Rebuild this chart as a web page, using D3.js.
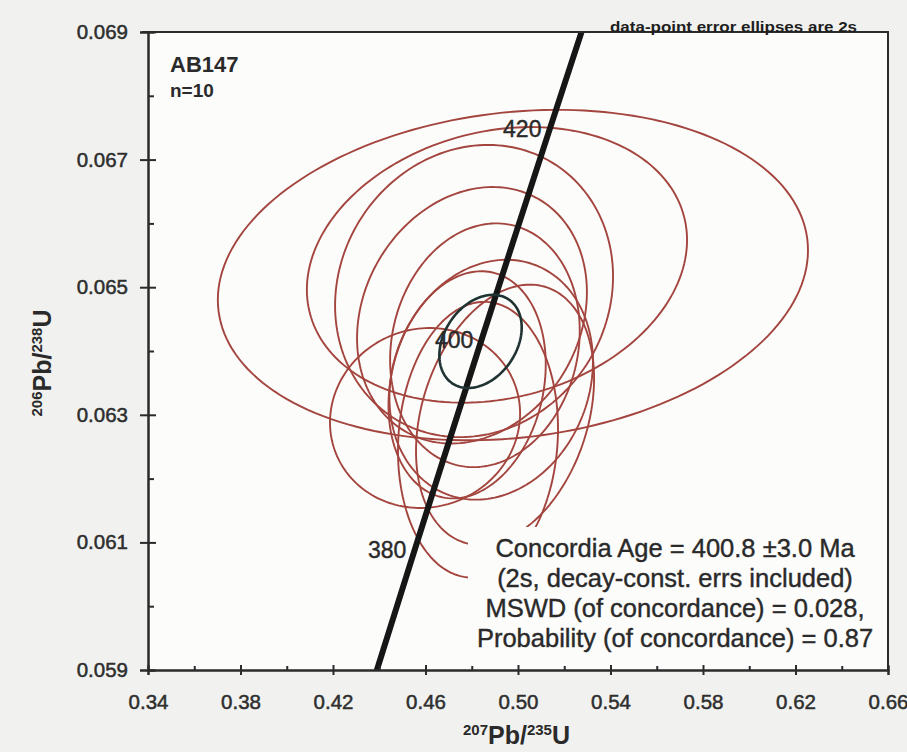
<!DOCTYPE html>
<html><head><meta charset="utf-8">
<script src="https://cdn.jsdelivr.net/npm/d3@7"></script>
<style>
html,body{margin:0;padding:0;background:#f1f2ef;}
svg{display:block;}
text{font-family:"Liberation Sans", Arial, sans-serif;}
</style></head><body>
<svg id="c" width="907" height="752"></svg>
<script>
// ---- data ----
const xTicks = [0.34,0.38,0.42,0.46,0.50,0.54,0.58,0.62,0.66];
const xMinor = [0.36,0.40,0.44,0.48,0.52,0.56,0.60,0.64];
const yTicks = [0.059,0.061,0.063,0.065,0.067,0.069];
const yMinor = [0.060,0.062,0.064,0.066,0.068];
// data-point error ellipses (2s): centre 207Pb/235U, centre 206Pb/238U, 2s x, 2s y, rho
const ellX   = [0.4978, 0.4909, 0.4810, 0.4801, 0.4857, 0.4598, 0.4827, 0.4944, 0.4884, 0.4780];
const ellY   = [0.06519,0.06535,0.06494,0.06456,0.06409,0.06295,0.06261,0.06300,0.06355,0.06347];
const ellSX  = [0.1276, 0.0822, 0.0601, 0.0497, 0.0410, 0.0411, 0.0346, 0.0385, 0.0440, 0.0340];
const ellSY  = [0.00259,0.00216,0.00229,0.00201,0.00191,0.00141,0.00216,0.00204,0.00188,0.00178];
const ellRho = [0.15, 0.18, 0.10, 0.18, 0.12, 0.05, 0.08, 0.28, 0.15, 0.18];
// concordia age ellipse
const concEll = {x:0.4838, y:0.06415, sx:0.0178, sy:0.00073, rho:0.3};
// concordia curve ages (Ma) and labelled ages
const curveAges = [365,370,380,390,400,410,420,430,435];
const markAges = [380,400,420];
const lambda238 = 1.55125e-10, lambda235 = 9.8485e-10;
const infoLines = ["Concordia Age = 400.8 \u00b13.0 Ma","(2s, decay-const. errs included)","MSWD (of concordance) = 0.028,","Probability (of concordance) = 0.87"];

// ---- chart ----
const svg = d3.select("#c");
const x = d3.scaleLinear().domain([0.34,0.66]).range([148,888]);
const y = d3.scaleLinear().domain([0.059,0.069]).range([670,32]);
const ink = "#2a2a2a";

svg.append("rect").attr("x",x(0.34)).attr("y",y(0.069)).attr("width",x(0.66)-x(0.34)).attr("height",y(0.059)-y(0.069)).attr("fill","#fcfcfb");

svg.append("clipPath").attr("id","pc").append("rect")
  .attr("x",x(0.34)).attr("y",y(0.069)).attr("width",x(0.66)-x(0.34)).attr("height",y(0.059)-y(0.069));
const plot = svg.append("g").attr("clip-path","url(#pc)");

function ellPts(cx,cy,sx,sy,r){
  const pts=[]; const n=180;
  for(let i=0;i<n;i++){const t=2*Math.PI*i/n;
    pts.push([cx+sx*Math.cos(t), cy+sy*(r*Math.cos(t)+Math.sqrt(1-r*r)*Math.sin(t))]);}
  return pts;
}
const line = d3.line().x(d=>x(d[0])).y(d=>y(d[1]));
const closed = d3.line().x(d=>x(d[0])).y(d=>y(d[1])).curve(d3.curveLinearClosed);

ellX.forEach((cx,i)=>{
  plot.append("path").attr("d",closed(ellPts(cx,ellY[i],ellSX[i],ellSY[i],ellRho[i])))
    .attr("fill","none").attr("stroke","#a3453e").attr("stroke-width",1.9);
});

// white info box covering ellipses
plot.append("rect").attr("x",468).attr("y",527).attr("width",420).attr("height",141).attr("fill","#fcfcfb");

// concordia curve
const conc = a => [Math.exp(lambda235*a*1e6)-1, Math.exp(lambda238*a*1e6)-1];
plot.append("path").attr("d",line(curveAges.map(conc)))
  .attr("fill","none").attr("stroke","#161616").attr("stroke-width",6);

// concordia ellipse
plot.append("path").attr("d",closed(ellPts(concEll.x,concEll.y,concEll.sx,concEll.sy,concEll.rho)))
  .attr("fill","none").attr("stroke","#1e3332").attr("stroke-width",2.6);

markAges.forEach(a=>{
  const p=conc(a);
  plot.append("text").attr("x",x(p[0])-5).attr("y",y(p[1])-2).attr("text-anchor","end")
    .attr("font-size",23).attr("fill",ink).attr("stroke",ink).attr("stroke-width",0.4).text(a);
});

// axes
const ax = svg.append("g").attr("transform",`translate(0,${y(0.059)})`)
  .call(d3.axisBottom(x).tickValues(xTicks).tickFormat(d3.format(".2f")).tickSize(5).tickPadding(19));
ax.selectAll(".tick line").attr("y1",-5);
const axm = svg.append("g").attr("transform",`translate(0,${y(0.059)})`)
  .call(d3.axisBottom(x).tickValues(xMinor).tickFormat("").tickSize(-4));
const ay = svg.append("g").attr("transform",`translate(${x(0.34)},0)`)
  .call(d3.axisLeft(y).tickValues(yTicks).tickFormat(d3.format(".3f")).tickSize(8).tickPadding(12));
ay.selectAll(".tick line").attr("x1",8);
const aym = svg.append("g").attr("transform",`translate(${x(0.34)},0)`)
  .call(d3.axisLeft(y).tickValues(yMinor).tickFormat("").tickSize(-6));
[ax,axm,ay,aym].forEach(g=>{
  g.select(".domain").attr("stroke","#2b2b2b").attr("stroke-width",2);
  g.selectAll(".tick line").attr("stroke","#2b2b2b").attr("stroke-width",2);
  g.selectAll(".tick text").attr("font-size",20.5).attr("fill","#2e2e2e").attr("stroke","#2e2e2e").attr("stroke-width",0.5)
    .attr("font-family","Liberation Sans, Arial, sans-serif");
});
// frame top/right
svg.append("path").attr("d",`M${x(0.34)-6},${y(0.069)}H${x(0.66)}V${y(0.059)}`)
  .attr("fill","none").attr("stroke","#2b2b2b").attr("stroke-width",2);

// labels
svg.append("text").attr("x",170).attr("y",72).attr("font-size",22).attr("font-weight","bold").attr("fill",ink).text("AB147");
svg.append("text").attr("x",170).attr("y",97).attr("font-size",19).attr("font-weight","bold").attr("fill",ink).text("n=10");
svg.append("text").attr("x",610).attr("y",32).attr("font-size",15).attr("font-weight","bold").attr("fill","#1e1e1e")
  .attr("textLength",247).attr("lengthAdjust","spacingAndGlyphs").text("data-point error ellipses are 2s");

const info = svg.append("text").attr("text-anchor","middle").attr("font-size",25.5).attr("fill",ink)
  .attr("stroke",ink).attr("stroke-width",0.4);
infoLines.forEach((t,i)=>info.append("tspan").attr("x",675).attr("y",557+i*30).text(t));

function ratioTitle(sel, a, b){
  sel.attr("font-weight","bold").attr("fill",ink);
  sel.append("tspan").attr("font-size",15).attr("dy",-9).text(a);
  sel.append("tspan").attr("font-size",25).attr("dy",9).text("Pb/");
  sel.append("tspan").attr("font-size",15).attr("dy",-9).text(b);
  sel.append("tspan").attr("font-size",25).attr("dy",9).text("U");
}
ratioTitle(svg.append("text").attr("x",463).attr("y",744), "207","235");
ratioTitle(svg.append("text").attr("text-anchor","middle").attr("transform","translate(51,363) rotate(-90)"), "206","238");
</script>
</body></html>
